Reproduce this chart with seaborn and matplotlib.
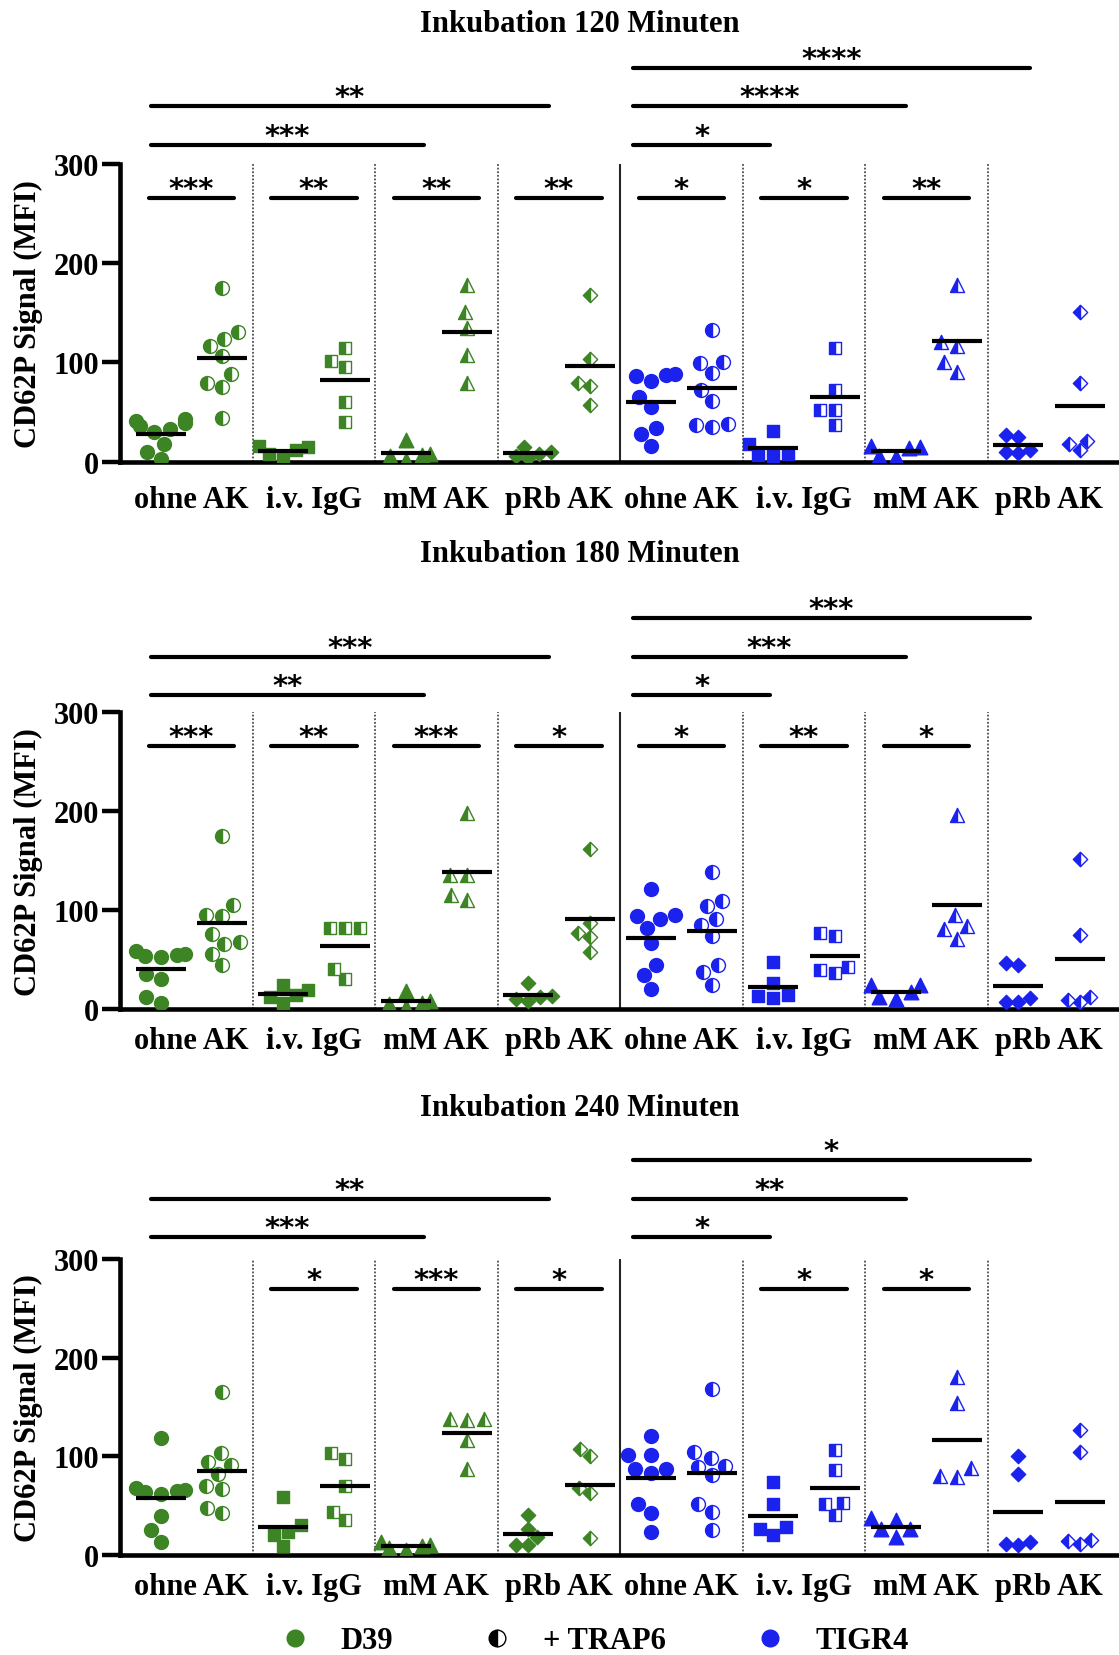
import matplotlib
matplotlib.use("Agg")
import matplotlib.pyplot as plt
from matplotlib.lines import Line2D
from matplotlib.markers import MarkerStyle
import pandas as pd
import seaborn as sns


groups = ["ohne AK", "i.v. IgG", "mM AK", "pRb AK"]
times = [120, 180, 240]

# CD62P MFI per antibody group [ohne AK, i.v. IgG, mM AK, pRb AK]
d39_120 = [[43, 41, 39, 36, 33, 30, 18, 10, 3], [16, 15, 12, 8, 5],
           [22, 8, 7, 6, 2], [14.5, 10, 8, 5.5, 3.5]]
d39_120_trap = [[175, 131, 124, 117, 107, 88, 79, 75, 44], [115, 101, 95, 60, 40],
                [178, 151, 135, 108, 79], [168, 103, 79, 76, 57]]
tigr4_120 = [[87, 88, 81, 86, 65, 55, 34, 28, 16], [31, 18, 6, 7.5, 6.5],
             [16, 15, 14, 4.5, 6], [27, 25, 9, 12, 9.5]]
tigr4_120_trap = [[133, 99, 100, 89, 72, 61, 35, 38, 37], [115, 72, 52, 52, 37],
                  [178, 121, 117, 100, 90], [151, 79, 21, 12, 18]]

d39_180 = [[59, 56, 55, 54, 53, 35, 30, 12, 6], [24, 19, 14, 12, 6],
           [18.5, 8.5, 6.5, 5, 2], [26, 13, 12, 10, 8]]
d39_180_trap = [[175, 105, 95, 94, 76, 68, 66, 56, 44], [82, 82, 82, 40, 30],
                [198, 135, 135, 115, 110], [162, 87, 77, 73, 58]]
tigr4_180 = [[121, 91, 94, 95, 82, 67, 44, 34, 20], [48, 26, 11, 14, 13],
             [24, 24, 17.5, 10, 12], [46.5, 44.5, 7, 11, 7]]
tigr4_180_trap = [[139, 109, 104, 91, 85, 74, 44, 37, 24], [77, 74, 36, 42, 39],
                  [196, 95, 84, 81, 71], [152, 75, 7, 12, 9]]

d39_240 = [[119, 68, 66, 65, 64, 62, 40, 25, 13], [59, 30, 23, 20, 9],
           [13, 10, 9, 7, 5], [41, 26, 18, 10, 10]]
d39_240_trap = [[165, 103, 94, 91, 82, 70, 67, 48, 43], [103, 97, 70, 44, 35],
                [138, 138, 137, 117, 87], [107, 100, 68, 63, 17]]
tigr4_240 = [[121, 101, 101, 87, 87, 83, 52, 43, 23], [74, 52, 28, 20, 26],
             [38, 35, 26, 26, 18], [100, 82, 10, 13, 11]]
tigr4_240_trap = [[168, 104, 98, 90, 89, 81, 52, 44, 25], [106, 86, 52, 53, 41],
                  [180, 154, 88, 80, 79], [127, 104, 15, 14, 11]]

# significance, TRAP6 vs none inside each pair (D39 groups then TIGR4 groups)
pair_stars_120 = ["***", "**", "**", "**", "*", "*", "**", ""]
pair_stars_180 = ["***", "**", "***", "*", "*", "**", "*", ""]
pair_stars_240 = ["", "*", "***", "*", "", "*", "*", ""]
# ohne AK vs i.v. IgG / mM AK / pRb AK
cross_d39 = [["", "***", "**"], ["", "**", "***"], ["", "***", "**"]]
cross_tigr4 = [["*", "****", "****"], ["*", "***", "***"], ["*", "**", "*"]]

green = "#3c8424"
blue = "#1c22ee"

panels = [
    (d39_120, d39_120_trap, tigr4_120, tigr4_120_trap),
    (d39_180, d39_180_trap, tigr4_180, tigr4_180_trap),
    (d39_240, d39_240_trap, tigr4_240, tigr4_240_trap),
]
pair_stars = [pair_stars_120, pair_stars_180, pair_stars_240]

rows = []
for t, (d, dt, tg, tgt) in zip(times, panels):
    for strain, plain, trap in (("D39", d, dt), ("TIGR4", tg, tgt)):
        for g, a, b in zip(groups, plain, trap):
            for v in a:
                rows.append((t, strain, g, False, f"{strain} {g}", v))
            for v in b:
                rows.append((t, strain, g, True, f"{strain} {g} +", v))
df = pd.DataFrame(rows, columns=["time", "strain", "group", "trap", "col", "value"])

cols = []
for strain in ("D39", "TIGR4"):
    for g in groups:
        cols += [f"{strain} {g}", f"{strain} {g} +"]

marks = {"ohne AK": ("o", 10), "i.v. IgG": ("s", 9.3), "mM AK": ("^", 10.5), "pRb AK": ("D", 7.3)}

plt.rcParams["font.family"] = ["Liberation Serif", "DejaVu Serif"]
plt.rcParams["font.weight"] = "bold"

fig = plt.figure(figsize=(11.19, 16.56), dpi=100)
W, H = 1119, 1656
axis_px = [(165, 462.7), (713.3, 1010), (1260, 1556)]
title_px = [24, 555, 1109]
label_pad = [17, 12, 12]
cross_base = [319, 317, 322]
star_font = dict(family="DejaVu Sans", weight="bold", size=21)

for i, t in enumerate(times):
    top, bot = axis_px[i]
    ax = fig.add_axes([120.5 / W, 1 - bot / H, 1 - 120.5 / W, (bot - top) / H])
    sub = df[df.time == t]

    for strain, col in (("D39", green), ("TIGR4", blue)):
        for g in groups:
            m, sz = marks[g]
            s = sub[(sub.strain == strain) & (sub.group == g)]
            plain = s[~s.trap]
            trap = s[s.trap]
            sns.swarmplot(data=plain, x="col", y="value", order=cols, ax=ax,
                          marker=m, size=sz, color=col, edgecolor=col,
                          linewidth=1, warn_thresh=1)
            sns.swarmplot(data=trap, x="col", y="value", order=cols, ax=ax,
                          marker=MarkerStyle(m, fillstyle="left"), size=sz,
                          color=col, edgecolor=col, linewidth=1, warn_thresh=1)
            sns.swarmplot(data=trap, x="col", y="value", order=cols, ax=ax,
                          marker=MarkerStyle(m, fillstyle="right"), size=sz,
                          color="white", edgecolor=col, linewidth=1, warn_thresh=1)

    sns.pointplot(data=sub, x="col", y="value", order=cols, ax=ax,
                  estimator="mean", errorbar=None, color="k", marker="_",
                  markersize=36, markeredgewidth=3, linestyle="none", zorder=6)

    ax.vlines([1.5, 3.5, 5.5, 9.5, 11.5, 13.5], 0, 300, colors="0.3",
              linestyles=(0, (1, 1)), linewidth=1.3, zorder=0.5)
    ax.vlines([7.5], 0, 300, colors="0.15", linewidth=1.5, zorder=0.5)

    ax.set_xlim(-0.658, 15.644)
    ax.set_ylim(0, 300)
    ax.set_yticks([0, 100, 200, 300])
    ax.set_xticks([0.5, 2.5, 4.5, 6.5, 8.5, 10.5, 12.5, 14.5])
    ax.set_xticklabels(groups * 2)
    ax.tick_params(axis="x", length=0, pad=label_pad[i], labelsize=22)
    ax.tick_params(axis="y", length=13, width=3.2, pad=2.5, labelsize=22)
    for sp in ("top", "right"):
        ax.spines[sp].set_visible(False)
    for sp in ("left", "bottom"):
        ax.spines[sp].set_linewidth(3.3)
    ax.set_xlabel("")
    ax.set_ylabel("CD62P Signal (MFI)", fontsize=22, fontweight="bold", va="center")
    ax.yaxis.set_label_coords(-0.0926, 0.5)

    # within pair brackets
    for k, st in enumerate(pair_stars[i]):
        if not st:
            continue
        y = 266 if i < 2 else 270
        ax.plot([2 * k - 0.2, 2 * k + 1.2], [y, y], color="k", lw=3,
                solid_capstyle="round", clip_on=False)
        ax.text(2 * k + 0.5, y + 1, st, ha="center", va="baseline",
                fontdict=star_font, clip_on=False)

    # brackets between ohne AK and the other groups
    for start, ends, stars in ((-0.16, [None, 4.3, 6.33], cross_d39[i]),
                               (7.71, [9.95, 12.17, 14.19], cross_tigr4[i])):
        lvl = 0
        for x1, st in zip(ends, stars):
            if not st:
                continue
            y = cross_base[i] + 39 * lvl
            ax.plot([start, x1], [y, y], color="k", lw=3,
                    solid_capstyle="round", clip_on=False)
            ax.text((start + x1) / 2, y + 1, st, ha="center", va="baseline",
                    fontdict=star_font, clip_on=False)
            lvl += 1

    fig.text(580 / W, 1 - title_px[i] / H, f"Inkubation {t} Minuten",
             ha="center", va="center", fontsize=22, fontweight="bold")

handles = [
    Line2D([], [], marker="o", ls="none", color=green, markersize=12),
    Line2D([], [], marker="o", ls="none", markerfacecolor="k",
           markerfacecoloralt="white", fillstyle="left", markeredgecolor="k",
           markersize=12),
    Line2D([], [], marker="o", ls="none", color=blue, markersize=12),
]
fig.legend(handles, ["D39", "+ TRAP6", "TIGR4"], ncol=3, loc="center",
           bbox_to_anchor=(0.531, 1 - 1642 / H), frameon=False,
           prop=dict(family="Liberation Serif", weight="bold", size=22),
           handlelength=1, handletextpad=1.0, columnspacing=2.9)

fig.savefig("out.png", dpi=100)
